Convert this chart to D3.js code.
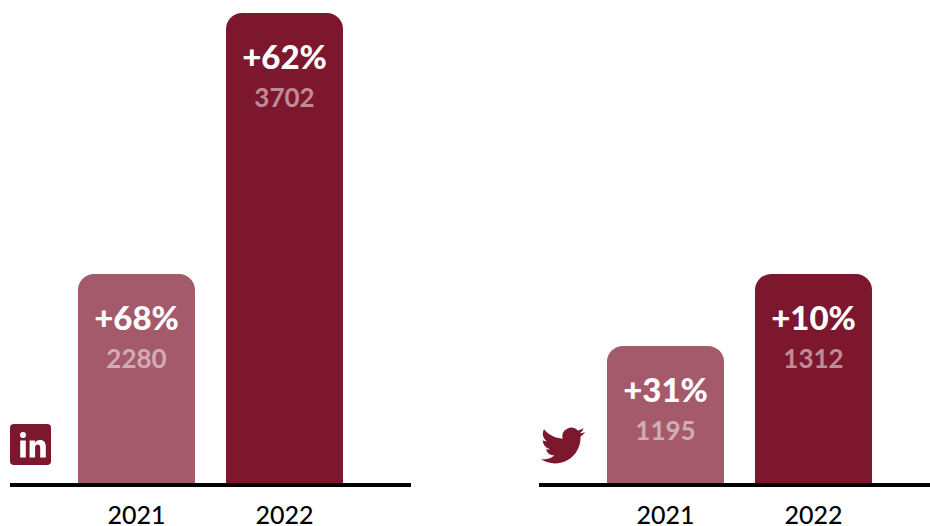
<!DOCTYPE html>
<html>
<head>
<meta charset="utf-8">
<script src="https://cdn.jsdelivr.net/npm/d3@7/dist/d3.min.js"></script>
<style>
  html, body { margin: 0; padding: 0; background: #fff; }
  svg { display: block; }
  text { font-family: Lato, sans-serif; text-anchor: middle; }
</style>
</head>
<body>
<svg id="chart" width="930" height="526"></svg>
<script>
// Yearly totals and growth for each network
const years = ["2021", "2022"];
const linkedinValues = [2280, 3702];
const linkedinGrowth = ["+68%", "+62%"];
const twitterValues = [1195, 1312];
const twitterGrowth = ["+31%", "+10%"];

// Each panel has its own value axis, which does not start at zero
const linkedinDomain = [1141, 3702];
const twitterDomain = [972, 1312];

const yearColors = ["#a55a6c", "#7d172d"];
const iconColor = "#7d172d";
const baselineY = 483;
const topY = 13;

const svg = d3.select("#chart");

function drawPanel(cfg) {
  const x = d3.scaleBand().domain(years).range(cfg.barRange).paddingInner(31 / 148);
  const y = d3.scaleLinear().domain(cfg.domain).range([baselineY, cfg.topPx]);
  const g = svg.append("g");
  const rows = years.map((year, i) => ({ year, i, value: cfg.values[i], growth: cfg.growth[i] }));

  // Bars with rounded top corners and a square foot
  const radius = 16;
  g.selectAll("path.bar").data(rows).join("path")
    .attr("class", "bar")
    .attr("fill", d => yearColors[d.i])
    .attr("d", d => {
      const p = d3.path();
      const l = x(d.year), r = l + x.bandwidth(), t = y(d.value);
      p.moveTo(l, baselineY);
      p.lineTo(l, t + radius);
      p.arcTo(l, t, l + radius, t, radius);
      p.lineTo(r - radius, t);
      p.arcTo(r, t, r, t + radius, radius);
      p.lineTo(r, baselineY);
      p.closePath();
      return p.toString();
    });

  g.selectAll("text.growth").data(rows).join("text")
    .attr("class", "growth")
    .attr("x", d => x(d.year) + x.bandwidth() / 2)
    .attr("y", d => y(d.value) + 56)
    .attr("font-size", 33)
    .attr("font-weight", 900)
    .attr("fill", "#fff")
    .text(d => d.growth);

  g.selectAll("text.value").data(rows).join("text")
    .attr("class", "value")
    .attr("x", d => x(d.year) + x.bandwidth() / 2)
    .attr("y", d => y(d.value) + 94)
    .attr("font-size", 26)
    .attr("font-weight", 700)
    .attr("fill", "#fff")
    .attr("fill-opacity", 0.5)
    .text(d => d.value);

  // Baseline rule and year labels
  g.append("rect")
    .attr("x", cfg.axis[0]).attr("y", baselineY)
    .attr("width", cfg.axis[1] - cfg.axis[0]).attr("height", 4)
    .attr("fill", "#000");

  g.selectAll("text.year").data(rows).join("text")
    .attr("class", "year")
    .attr("x", d => x(d.year) + x.bandwidth() / 2)
    .attr("y", 524)
    .attr("font-size", 25)
    .attr("font-weight", 500)
    .attr("fill", "#000")
    .text(d => d.year);
}

drawPanel({ values: linkedinValues, growth: linkedinGrowth, domain: linkedinDomain, barRange: [78, 343], axis: [10, 411], topPx: topY });
drawPanel({ values: twitterValues, growth: twitterGrowth, domain: twitterDomain, barRange: [607, 872], axis: [539, 930], topPx: 274 });

// LinkedIn badge
const li = svg.append("g").attr("transform", "translate(10,424)");
li.append("rect").attr("width", 41).attr("height", 41).attr("rx", 4).attr("fill", iconColor);
li.append("circle").attr("cx", 13).attr("cy", 11).attr("r", 3).attr("fill", "#fff");
li.append("rect").attr("x", 10.2).attr("y", 16.5).attr("width", 5.6).attr("height", 17).attr("fill", "#fff");
li.append("path").attr("fill", "#fff")
  .attr("d", "M19.6 16.5h5.3v2.4c1-1.7 2.7-2.8 5-2.8 4.2 0 5.9 2.6 5.9 6.8v10.6h-5.6v-9.6c0-2-.7-3.3-2.5-3.3-1.900 0-2.6 1.500-2.6 3.300v9.600h-5.500z");

// Twitter bird
svg.append("path")
  .attr("transform", "translate(541,423.500) scale(1.835)")
  .attr("fill", iconColor)
  .attr("d", "M23.953 4.57a10 10 0 01-2.825.775 4.958 4.958 0 002.163-2.723c-.951.555-2.005.959-3.127 1.184a4.92 4.92 0 00-8.384 4.482C7.69 8.095 4.067 6.13 1.64 3.162a4.822 4.822 0 00-.666 2.475c0 1.71.87 3.213 2.188 4.096a4.904 4.904 0 01-2.228-.616v.06a4.923 4.923 0 003.946 4.827 4.996 4.996 0 01-2.212.085 4.936 4.936 0 004.604 3.417 9.867 9.867 0 01-6.102 2.105c-.39 0-.779-.023-1.17-.067a13.995 13.995 0 007.557 2.209c9.053 0 13.998-7.496 13.998-13.985 0-.21 0-.42-.015-.63A9.935 9.935 0 0024 4.59z");
</script>
</body>
</html>
